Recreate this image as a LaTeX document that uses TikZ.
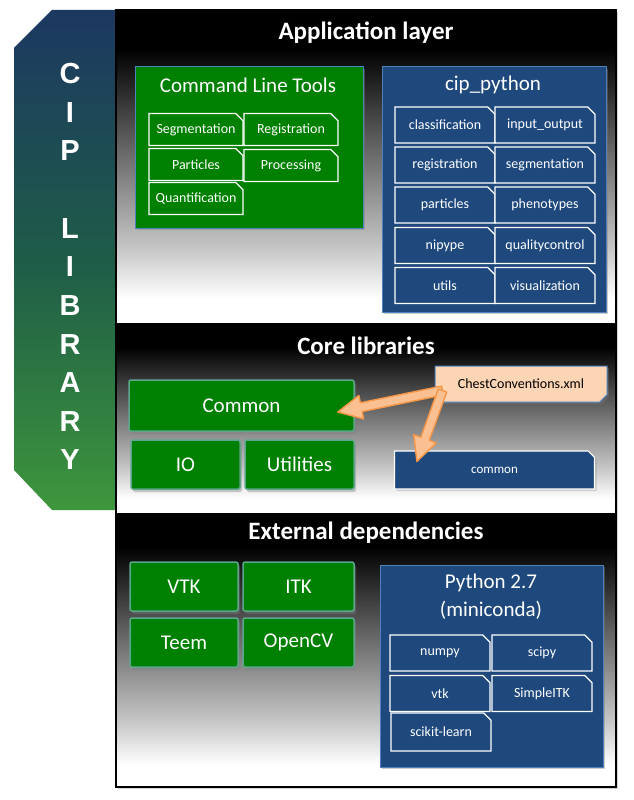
\documentclass[tikz,border=0pt]{standalone}
\usepackage{fontspec}
\setmainfont{Carlito}
\newfontfamily\bannerfont{Liberation Sans}
\usepackage{xcolor}
\usetikzlibrary{shapes.misc, calc, shadows}
\definecolor{cipgreen}{RGB}{0, 128, 0}
\definecolor{cipblue}{RGB}{31, 73, 125}
\definecolor{cipedge}{RGB}{79, 129, 189}
\definecolor{cipteal}{RGB}{92, 166, 140}
\definecolor{cippeach}{RGB}{252, 213, 180}
\definecolor{ciporange}{RGB}{247, 150, 70}
\definecolor{ciplight}{RGB}{251, 192, 145}
\definecolor{bannertop}{RGB}{28, 56, 96}
\definecolor{bannermid}{RGB}{30, 92, 72}
\definecolor{bannerbot}{RGB}{62, 150, 60}
\pgfdeclareverticalshading{layershade}{100bp}{color(0bp)=(white); color(29bp)=(white); color(37bp)=(black!22); color(52bp)=(black!58); color(69bp)=(black); color(100bp)=(black)}

% thick outlined arrow from #1 to #2
\newcommand{\fatarrow}[2]{%
  \coordinate (fa-b) at ($(#2)!24pt!(#1)$);
  \filldraw[fat] ($(#1)!4.5pt!90:(#2)$) -- ($(fa-b)!4.5pt!90:(#2)$) -- ($(fa-b)!12pt!90:(#2)$)
    -- (#2) -- ($(fa-b)!12pt!-90:(#2)$) -- ($(fa-b)!4.5pt!-90:(#2)$) -- ($(#1)!4.5pt!-90:(#2)$) -- cycle;
}

\begin{document}
\begin{tikzpicture}[
    x=1pt, y=-1pt,
    layer/.style={draw=black, line width=1.2pt, shade, shading=layershade, minimum width=500pt, inner sep=0pt, drop shadow={opacity=0.35, shadow xshift=2pt, shadow yshift=-2pt}},
    layertitle/.style={text=white, font=\bfseries\fontsize{25}{28}\selectfont},
    letter/.style={text=white, font=\bannerfont\bfseries\fontsize{29}{30}\selectfont},
    group/.style={draw=cipedge, line width=1pt, inner sep=0pt, drop shadow={opacity=0.4, shadow xshift=2pt, shadow yshift=-2pt}},
    grouptitle/.style={text=white, font=\fontsize{21}{28}\selectfont, align=center},
    tab/.style={chamfered rectangle, chamfered rectangle corners=north east, chamfered rectangle xsep=4pt, draw=white, line width=1.2pt, text=white, font=\fontsize{14}{16}\selectfont, inner sep=0pt},
    corebox/.style={draw=cipteal, line width=1.5pt, fill=cipgreen, rounded corners=2pt, text=white, font=\fontsize{21}{25}\selectfont, inner sep=0pt, drop shadow={opacity=0.4, shadow xshift=2pt, shadow yshift=-3pt}},
    fat/.style={draw=ciporange, line width=1.4pt, fill=ciplight, line join=round},
]
    \useasboundingbox (0,0) rectangle (634,800);

    % Banner
    \shade[top color=bannertop, bottom color=bannerbot, middle color=bannermid]
        (14,48) -- (52,10) -- (116,10) -- (116,510) -- (52,510) -- (14,470) -- cycle;
    \node[letter] (c1) at (70,73.5) {C};
    \node[letter] (c2) at (70,112.2) {I};
    \node[letter] (c3) at (70,150.8) {P};
    \node[letter] (l1) at (70,228.1) {L};
    \node[letter] (l2) at (70,266.8) {I};
    \node[letter] (l3) at (70,305.4) {B};
    \node[letter] (l4) at (70,344.1) {R};
    \node[letter] (l5) at (70,382.7) {A};
    \node[letter] (l6) at (70,421.4) {R};
    \node[letter] (l7) at (70,460) {Y};

    % Layers
    \node[layer, minimum height=314pt] (app) at (366,167) {};
    \node[layer, minimum height=190pt] (core) at (366,419) {};
    \node[layer, minimum height=273pt] (ext) at (366,650.5) {};
    \node[layertitle] (apptitle) at (366,33) {Application layer};
    \node[layertitle] (coretitle) at (366,345.5) {Core libraries};
    \node[layertitle] (exttitle) at (366,533) {External dependencies};

    % Command Line Tools
    \node[group, fill=cipgreen, minimum width=228pt, minimum height=161pt] (clt) at (249,147.5) {};
    \node[grouptitle] (clttitle) at (248,85) {Command Line Tools};
    \node[tab, fill=cipgreen, minimum width=94pt, minimum height=32pt] (seg) at (196,129.5) {Segmentation};
    \node[tab, fill=cipgreen, minimum width=94pt, minimum height=32pt] (reg) at (291,129.5) {Registration};
    \node[tab, fill=cipgreen, minimum width=94pt, minimum height=32pt] (part) at (196,164.5) {Particles};
    \node[tab, fill=cipgreen, minimum width=94pt, minimum height=32pt] (proc) at (291,165.5) {Processing};
    \node[tab, fill=cipgreen, minimum width=94pt, minimum height=32pt] (quant) at (196,198.5) {Quantification};

    % cip_python
    \node[group, fill=cipblue, minimum width=224pt, minimum height=245pt] (cippy) at (494,189.5) {};
    \node[grouptitle] (cippytitle) at (493,85) {cip\_python};
    \node[tab, fill=cipblue, minimum width=100pt, minimum height=36pt] (pyclass) at (445,125) {classification};
    \node[tab, fill=cipblue, minimum width=100pt, minimum height=36pt] (pyio) at (545,125) {input\_output};
    \node[tab, fill=cipblue, minimum width=100pt, minimum height=36pt] (pyreg) at (445,165) {registration};
    \node[tab, fill=cipblue, minimum width=100pt, minimum height=36pt] (pyseg) at (545,165) {segmentation};
    \node[tab, fill=cipblue, minimum width=100pt, minimum height=36pt] (pypart) at (445,205) {particles};
    \node[tab, fill=cipblue, minimum width=100pt, minimum height=36pt] (pypheno) at (545,205) {phenotypes};
    \node[tab, fill=cipblue, minimum width=100pt, minimum height=36pt] (pynipype) at (445,245.5) {nipype};
    \node[tab, fill=cipblue, minimum width=100pt, minimum height=36pt] (pyqc) at (545,245.5) {qualitycontrol};
    \node[tab, fill=cipblue, minimum width=100pt, minimum height=36pt] (pyutils) at (445,285.5) {utils};
    \node[tab, fill=cipblue, minimum width=100pt, minimum height=36pt] (pyvis) at (545,285.5) {visualization};

    % Core libraries
    \node[corebox, minimum width=225pt, minimum height=51pt] (common) at (241.5,405.5) {Common};
    \node[corebox, minimum width=109pt, minimum height=49pt] (io) at (185.5,464.5) {IO};
    \node[corebox, minimum width=109pt, minimum height=49pt] (util) at (299.5,464.5) {Utilities};
    \node[tab, chamfered rectangle corners=south east, fill=cippeach, draw=cipedge, line width=1pt, text=black, minimum width=172pt, minimum height=36pt, drop shadow={opacity=0.3, shadow xshift=2pt, shadow yshift=-2pt}] (chest) at (521,384) {ChestConventions.xml};
    \node[tab, fill=cipblue, font=\fontsize{13}{15}\selectfont, minimum width=200pt, minimum height=38pt, drop shadow={opacity=0.3, shadow xshift=2pt, shadow yshift=-2pt}] (pycommon) at (494.5,470) {common};

    % External dependencies
    \node[corebox, minimum width=108pt, minimum height=49pt] (vtk) at (184,586.5) {VTK};
    \node[corebox, minimum width=111pt, minimum height=49pt] (itk) at (298.5,586.5) {ITK};
    \node[corebox, minimum width=108pt, minimum height=49pt] (teem) at (184,642.5) {Teem};
    \node[corebox, minimum width=111pt, minimum height=49pt] (opencv) at (298.5,642.5) {OpenCV};
    \node[group, fill=cipblue, minimum width=223pt, minimum height=202pt] (python) at (491.5,666) {};
    \node[grouptitle] (pythontitle) at (491,597) {Python 2.7\\(miniconda)};
    \node[tab, fill=cipblue, minimum width=100pt, minimum height=36pt] (numpy) at (440,653) {numpy};
    \node[tab, fill=cipblue, minimum width=100pt, minimum height=36pt] (scipy) at (542,653) {scipy};
    \node[tab, fill=cipblue, minimum width=100pt, minimum height=36pt] (pyvtk) at (440,693.5) {vtk};
    \node[tab, fill=cipblue, minimum width=100pt, minimum height=36pt] (sitk) at (542,693.5) {SimpleITK};
    \node[tab, fill=cipblue, minimum width=100pt, minimum height=38pt] (sklearn) at (441,732) {scikit-learn};

    % Arrows from the conventions file
    \coordinate (src) at ($(chest.south west)+(8,-12)$);
    \coordinate (tip1) at ($(common.east)+(-17,6.5)$);
    \coordinate (tip2) at ($(pycommon.north west)+(23,11)$);
    \fatarrow{src}{tip1}
    \fatarrow{src}{tip2}
\end{tikzpicture}
\end{document}
